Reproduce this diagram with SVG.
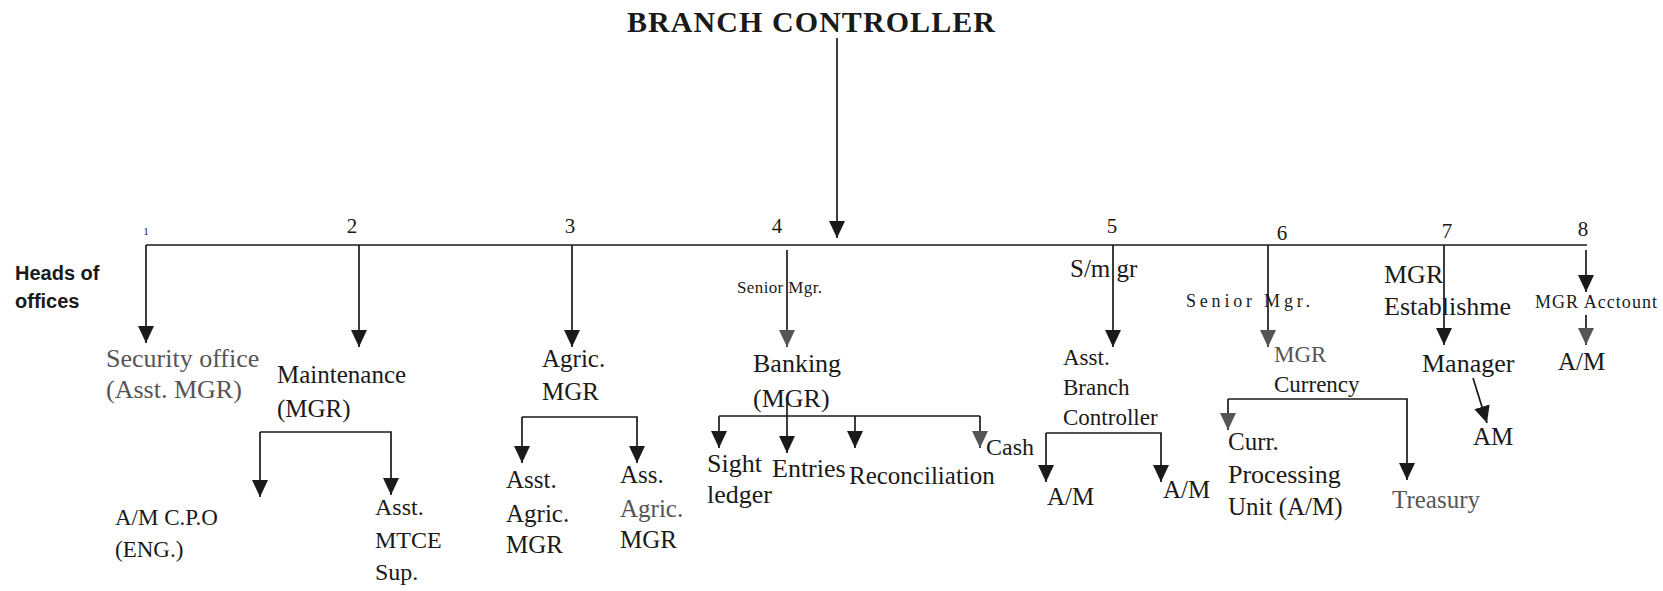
<svg xmlns="http://www.w3.org/2000/svg" width="1663" height="591" viewBox="0 0 1663 591">
<style>
.t{font-family:"Liberation Serif","Times New Roman",serif;fill:#1a1a1a}
.g{fill:#555}
.s{font-family:"Liberation Sans",Arial,sans-serif;font-weight:bold;font-size:20px;fill:#1a1a1a}
.n{font-family:"Liberation Serif","Times New Roman",serif;font-size:21px;fill:#1a1a1a;text-anchor:middle}
.c{fill:none;stroke:#1a1a1a;stroke-width:1.7}
.a{marker-end:url(#ah)}
.ag{marker-end:url(#ahg)}
</style>
<defs>
<marker id="ah" viewBox="0 0 17 16" refX="17" refY="8" markerWidth="17" markerHeight="16" markerUnits="userSpaceOnUse" orient="auto"><path d="M0,0 L17,8 L0,16 Z" fill="#1a1a1a"/></marker>
<marker id="ahg" viewBox="0 0 17 16" refX="17" refY="8" markerWidth="17" markerHeight="16" markerUnits="userSpaceOnUse" orient="auto"><path d="M0,0 L17,8 L0,16 Z" fill="#555"/></marker>
</defs>
<rect width="1663" height="591" fill="#fff"/>

<g id="connectors">
<path class="c a" d="M837,38 V238"/>
<path class="c" d="M146,245 H1587"/>
<path class="c a" d="M146,245 V343"/>
<path class="c a" d="M359,245 V347"/>
<path class="c a" d="M572,245 V347"/>
<path class="c ag" d="M787,250 V347"/>
<path class="c a" d="M1113,245 V347"/>
<path class="c ag" d="M1268,245 V347"/>
<path class="c a" d="M1444,245 V345"/>
<path class="c a" d="M1586,250 V292"/>
<path class="c ag" d="M1586,315 V345" stroke-width="1.2"/>
<path class="c a" d="M260,432 V497"/>
<path class="c a" d="M260,432 H391 V495"/>
<path class="c a" d="M522,417 V463"/>
<path class="c a" d="M522,417 H637 V463"/>
<path class="c a" d="M787,397 V453"/>
<path class="c a" d="M719,416 V448"/>
<path class="c" d="M719,416 H980"/>
<path class="c a" d="M855,416 V448"/>
<path class="c ag" d="M980,416 V448"/>
<path class="c a" d="M1046,433 V482"/>
<path class="c a" d="M1046,433 H1161 V482"/>
<path class="c ag" d="M1228,399 V430"/>
<path class="c a" d="M1228,399 H1407 V480"/>
<path class="c a" d="M1473,378 L1487,423"/>
</g>

<g id="title"><text class="t" x="627" y="32" font-weight="bold" font-size="30" textLength="368">BRANCH CONTROLLER</text></g>
<g id="numbers">
<text class="n" x="146" y="235" style="font-size:11px">1</text>
<text class="n" x="352" y="233">2</text>
<text class="n" x="570" y="233">3</text>
<text class="n" x="777" y="233">4</text>
<text class="n" x="1112" y="233">5</text>
<text class="n" x="1282" y="240">6</text>
<text class="n" x="1447" y="238">7</text>
<text class="n" x="1583" y="236">8</text>
</g>
<g id="heads"><text class="s" x="15" y="280">Heads of</text><text class="s" x="15" y="308">offices</text></g>

<g id="security"><text class="t g" x="106" y="367" font-size="26">Security office</text><text class="t g" x="106" y="398" font-size="26">(Asst. MGR)</text></g>
<g id="maintenance"><text class="t" x="277" y="383" font-size="25">Maintenance</text><text class="t" x="277" y="417" font-size="25">(MGR)</text></g>
<g id="amcpo"><text class="t" x="115" y="525" font-size="23">A/M C.P.O</text><text class="t" x="115" y="557" font-size="23">(ENG.)</text></g>
<g id="asstmtce"><text class="t" x="375" y="515" font-size="24">Asst.</text><text class="t" x="375" y="548" font-size="24">MTCE</text><text class="t" x="375" y="580" font-size="24">Sup.</text></g>

<g id="agric"><text class="t" x="542" y="367" font-size="25">Agric.</text><text class="t" x="542" y="400" font-size="25">MGR</text></g>
<g id="asstagric"><text class="t" x="506" y="488" font-size="25">Asst.</text><text class="t" x="506" y="522" font-size="25">Agric.</text><text class="t" x="506" y="553" font-size="25">MGR</text></g>
<g id="assagric"><text class="t" x="620" y="483" font-size="25">Ass.</text><text class="t g" x="620" y="517" font-size="25">Agric.</text><text class="t" x="620" y="548" font-size="25">MGR</text></g>

<g id="seniormgr4"><text class="t" x="737" y="293" font-size="17" textLength="85">Senior Mgr.</text></g>
<g id="banking"><text class="t" x="753" y="372" font-size="26">Banking</text><text class="t" x="753" y="407" font-size="26">(MGR)</text></g>
<g id="sight"><text class="t" x="707" y="472" font-size="26">Sight</text><text class="t" x="707" y="503" font-size="26">ledger</text></g>
<g id="entries"><text class="t" x="772" y="477" font-size="26">Entries</text></g>
<g id="reconciliation"><text class="t" x="849" y="484" font-size="25">Reconciliation</text></g>
<g id="cash"><text class="t" x="986" y="455" font-size="24">Cash</text></g>

<g id="smgr5"><text class="t" x="1070" y="277" font-size="25">S/m gr</text></g>
<g id="asstbc"><text class="t" x="1063" y="365" font-size="23">Asst.</text><text class="t" x="1063" y="395" font-size="23">Branch</text><text class="t" x="1063" y="425" font-size="23">Controller</text></g>
<g id="am5a"><text class="t" x="1047" y="505" font-size="25">A/M</text></g>
<g id="am5b"><text class="t" x="1163" y="498" font-size="25">A/M</text></g>

<g id="seniormgr6"><text class="t" x="1186" y="307" font-size="18" textLength="124">Senior Mgr.</text></g>
<g id="mgrcurrency"><text class="t g" x="1274" y="362" font-size="23">MGR</text><text class="t" x="1274" y="392" font-size="23">Currency</text></g>
<g id="currproc"><text class="t" x="1228" y="450" font-size="25">Curr.</text><text class="t" x="1228" y="483" font-size="26">Processing</text><text class="t" x="1228" y="515" font-size="25">Unit (A/M)</text></g>
<g id="treasury"><text class="t g" x="1392" y="508" font-size="25">Treasury</text></g>

<g id="mgrest"><text class="t" x="1384" y="283" font-size="26">MGR</text><text class="t" x="1384" y="315" font-size="26">Establishme</text></g>
<g id="manager"><text class="t" x="1422" y="372" font-size="26">Manager</text></g>
<g id="am7"><text class="t" x="1473" y="445" font-size="25">AM</text></g>

<g id="mgracct"><text class="t" x="1535" y="308" font-size="18" textLength="122">MGR Acctount</text></g>
<g id="am8"><text class="t" x="1558" y="370" font-size="25">A/M</text></g>
</svg>
